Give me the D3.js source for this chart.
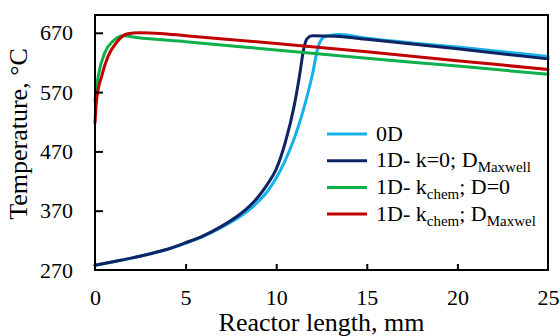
<!DOCTYPE html>
<html>
<head>
<meta charset="utf-8">
<script src="https://cdn.jsdelivr.net/npm/d3@7"></script>
<style>
  body { margin: 0; background: #fff; }
  svg { display: block; font-family: 'Liberation Serif', 'Times New Roman', serif; }
</style>
</head>
<body>
<div id="chart"></div>
<script>
// axis ticks
const xTicks = [0, 5, 10, 15, 20, 25]
const yTicks = [270, 370, 470, 570, 670]

// series
const x0D = [0, 1, 2, 3, 4, 5, 6, 7, 8, 9, 9.5, 10, 10.5, 11, 11.5, 12, 12.3, 12.6, 13, 13.5, 15, 20, 25]
const y0D = [278, 284, 290, 297, 305, 315, 327, 342, 360, 385, 402, 425, 455, 492, 540, 600, 645, 662, 666, 667, 661, 646, 630]

const xMaxwell = [0, 1, 2, 3, 4, 5, 6, 7, 8, 8.5, 9, 9.5, 10, 10.5, 11, 11.3, 11.5, 11.7, 12, 13.3, 15, 20, 25]
const yMaxwell = [278, 284, 290, 297, 305, 316, 328, 344, 364, 377, 393, 414, 440, 485, 548, 600, 640, 660, 665, 664, 659, 643, 626]

const xChemD0 = [0, 0.18, 0.55, 1.0, 1.56, 2.3, 5, 10, 15, 20, 25]
const yChemD0 = [555, 597, 637, 656, 665, 662, 655, 641, 627, 614, 600]

const xChemMaxwell = [0, 0.09, 0.37, 0.73, 1.2, 1.75, 2.48, 3.58, 5, 10, 15, 20, 25]
const yChemMaxwell = [518, 558, 597, 631, 654, 668, 670, 669, 665, 652, 638, 623, 608]

const series = [
  {name: '0D', sub: null, tail: '', tail_sub: null, xs: x0D, ys: y0D, color: '#14b1ea'},
  {name: '1D- k=0; D', sub: 'Maxwell', tail: '', tail_sub: null, xs: xMaxwell, ys: yMaxwell, color: '#0e2463'},
  {name: '1D- k', sub: 'chem', tail: '; D=0', tail_sub: null, xs: xChemD0, ys: yChemD0, color: '#0db04b'},
  {name: '1D- k', sub: 'chem', tail: '; D', tail_sub: 'Maxwel', xs: xChemMaxwell, ys: yChemMaxwell, color: '#c10000'}
]

const width = 560
const height = 336
const margin = {top: 15, right: 12, bottom: 66, left: 95}
const w = width - margin.left - margin.right
const h = height - margin.top - margin.bottom

const svg = d3.select('#chart')
  .append('svg')
  .attr('width', width)
  .attr('height', height)

const g = svg.append('g')
  .attr('transform', `translate(${margin.left},${margin.top})`)

const xs = d3.scaleLinear().domain([0, 25]).range([0, w])
const ys = d3.scaleLinear().domain([270, 700]).range([h, 0])

// lines first, frame on top
const line = d3.line()
  .x((d) => xs(d[0]))
  .y((d) => ys(d[1]))
  .curve(d3.curveMonotoneX)

g.append('g').selectAll('path')
  .data(series)
  .enter()
  .append('path')
  .attr('d', (s) => line(s.xs.map((x, i) => [x, s.ys[i]])))
  .attr('fill', 'none')
  .attr('stroke', (s) => s.color)
  .attr('stroke-width', 3)
  .attr('stroke-linejoin', 'round')
  .attr('stroke-linecap', 'round')

// axes, ticks pointing inwards
const xAxis = g.append('g')
  .attr('transform', `translate(0,${h})`)
  .call(d3.axisBottom(xs).tickValues(xTicks).tickSizeInner(-6).tickSizeOuter(0).tickPadding(19))
const yAxis = g.append('g')
  .call(d3.axisLeft(ys).tickValues(yTicks).tickSizeInner(-8).tickSizeOuter(0).tickPadding(22))

for (const ax of [xAxis, yAxis]) {
  ax.select('.domain').remove()
  ax.selectAll('.tick line').attr('stroke', '#000').attr('stroke-width', 2)
  ax.selectAll('.tick text')
    .attr('fill', '#000')
    .style('font-family', 'Liberation Serif')
    .style('font-size', '22px')
}
// no tick mark on the corners
xAxis.selectAll('.tick').filter((d) => d === 0 || d === 25).select('line').remove()
yAxis.selectAll('.tick').filter((d) => d === 270).select('line').remove()

g.append('rect')
  .attr('width', w)
  .attr('height', h)
  .attr('fill', 'none')
  .attr('stroke', '#000')
  .attr('stroke-width', 2)

// axis titles
svg.append('text')
  .attr('x', margin.left + w / 2)
  .attr('y', 331)
  .attr('text-anchor', 'middle')
  .style('font-size', '26px')
  .text('Reactor length, mm')

svg.append('text')
  .attr('transform', `translate(27,134) rotate(-90)`)
  .attr('text-anchor', 'middle')
  .style('font-size', '26px')
  .text('Temperature, °C')

// legend
const legend = svg.append('g')
const rowY = (i) => 134 + i * 26.7
series.forEach((s, i) => {
  legend.append('line')
    .attr('x1', 327).attr('x2', 367)
    .attr('y1', rowY(i)).attr('y2', rowY(i))
    .attr('stroke', s.color)
    .attr('stroke-width', 3)
  const t = legend.append('text')
    .attr('x', 376)
    .attr('y', rowY(i) + 6.6)
    .style('font-size', '22px')
  t.append('tspan').text(s.name)
  if (s.sub) {
    t.append('tspan').attr('dy', 5).style('font-size', '15px').text(s.sub)
    if (s.tail) t.append('tspan').attr('dy', -5).text(s.tail)
    if (s.tail_sub) t.append('tspan').attr('dy', 5).style('font-size', '15px').text(s.tail_sub)
  }
})
</script>
</body>
</html>
